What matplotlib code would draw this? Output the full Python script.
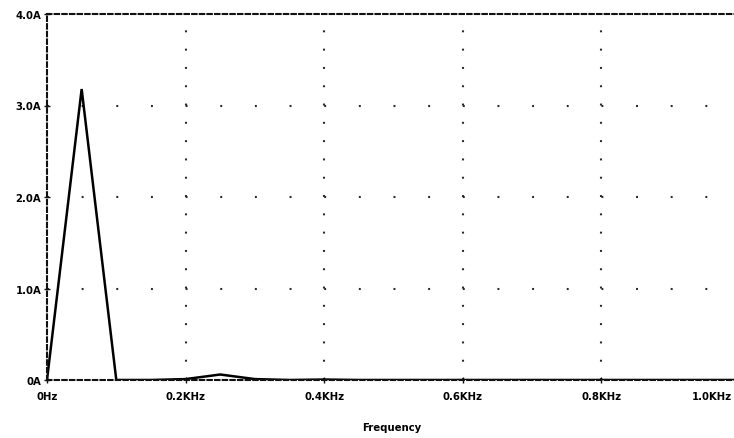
import matplotlib
matplotlib.use("Agg")
import matplotlib.pyplot as plt
from matplotlib.transforms import ScaledTranslation

plt.rcParams["lines.scale_dashes"] = False

# FFT magnitude spectrum (frequency in kHz, current in A)
freq_khz = [0.0, 0.05, 0.10, 0.15, 0.20, 0.25, 0.30, 0.35, 0.40, 0.45, 0.50,
            0.55, 0.60, 0.65, 0.70, 0.75, 0.80, 0.85, 0.90, 0.95, 1.00]
current_a = [0.0, 3.18, 0.0, 0.0, 0.01, 0.06, 0.01, 0.0, 0.005, 0.0, 0.0,
             0.0, 0.0, 0.0, 0.0, 0.0, 0.0, 0.0, 0.0, 0.0, 0.0]

x_ticks = [0.0, 0.2, 0.4, 0.6, 0.8, 1.0]
x_labels = ["0Hz", "0.2KHz", "0.4KHz", "0.6KHz", "0.8KHz", "1.0KHz"]
y_ticks = [0.0, 1.0, 2.0, 3.0, 4.0]
y_labels = ["0A", "1.0A", "2.0A", "3.0A", "4.0A"]

W, H = 734, 439
fig = plt.figure(figsize=(W / 100, H / 100), dpi=100)
left, right, top, bottom = 47, 740, 15, 381
ax = fig.add_axes([left / W, 1 - bottom / H, (right - left) / W, (bottom - top) / H])

ax.plot(freq_khz, current_a, color="black", lw=1.8, solid_joinstyle="miter")

ax.set_xlim(0, 1.0)
ax.set_ylim(0, 4.0)

# dotted grid, dots at minor intervals (sizes in points)
px = 72 / 100
step_v = (bottom - top) / 20 * px      # every 0.2 A
step_h = (right - left) / 20 * px      # every 0.05 kHz
dot = 1.4
for xv in x_ticks[1:-1]:
    ax.axvline(xv, color="#2a2a2a", lw=1.5, linestyle=(0, (dot, step_v - dot)), zorder=0)
for yv in y_ticks[1:-1]:
    ax.axhline(yv, color="#2a2a2a", lw=1.5, linestyle=(0, (dot, step_h - dot)), zorder=0)

for side in ("left", "top", "bottom"):
    ax.spines[side].set_linestyle((0, (3.2, 2.3)))
    ax.spines[side].set_linewidth(1.5)
    ax.spines[side].set_color("#111111")
ax.spines["right"].set_visible(False)

font = dict(family="DejaVu Sans", weight="bold", size=7.3)
ax.set_xticks(x_ticks)
ax.set_xticklabels(x_labels, **font)
ax.set_yticks(y_ticks)
ax.set_yticklabels(y_labels, **font)
ax.tick_params(axis="both", direction="inout", length=4, width=1.0, color="#111111")
ax.tick_params(axis="x", pad=6)
ax.tick_params(axis="y", pad=2)

# the last frequency label sits left of its tick, at the figure edge
last = ax.get_xticklabels()[-1]
last.set_transform(last.get_transform() + ScaledTranslation(-28 / 100, 0, fig.dpi_scale_trans))

fig.text(392 / W, 1 - 428 / H, "Frequency", ha="center", va="center", **font)

fig.savefig("out.png", dpi=100, facecolor="white")
